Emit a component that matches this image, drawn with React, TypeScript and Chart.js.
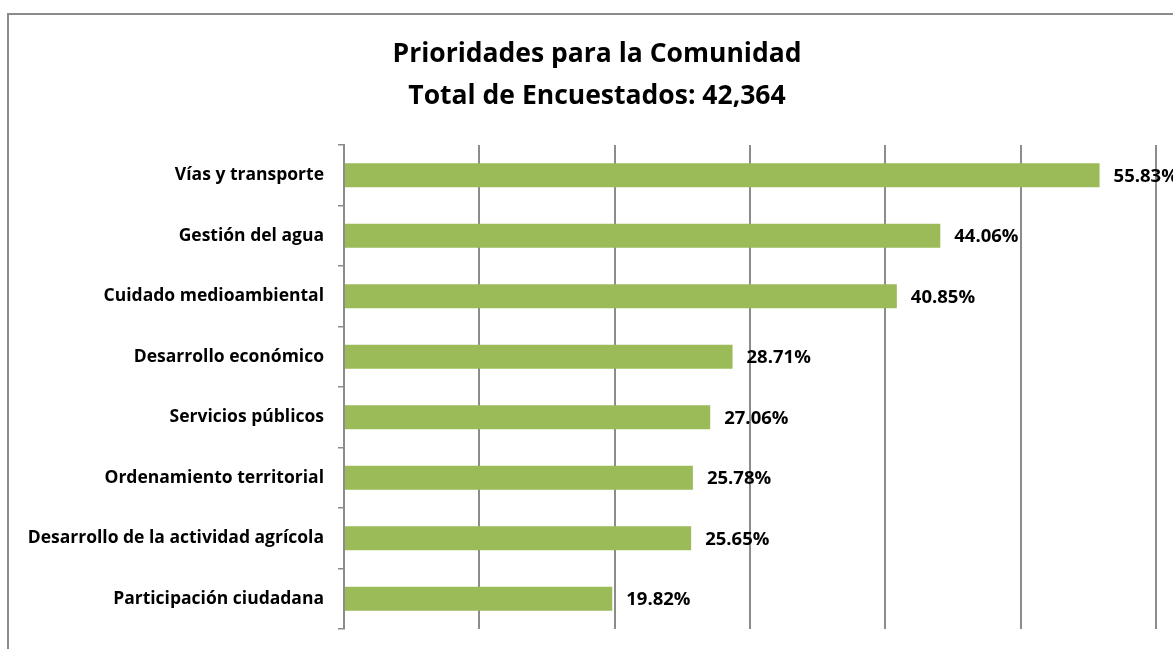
import React, { useEffect, useRef } from "react";
import { Chart, registerables } from "chart.js";

Chart.register(...registerables);

const categories = [
  "Vías y transporte",
  "Gestión del agua",
  "Cuidado medioambiental",
  "Desarrollo económico",
  "Servicios públicos",
  "Ordenamiento territorial",
  "Desarrollo de la actividad agrícola",
  "Participación ciudadana",
];
const values = [55.83, 44.06, 40.85, 28.71, 27.06, 25.78, 25.65, 19.82];
const titleLines = ["Prioridades para la Comunidad", "Total de Encuestados: 42,364"];

const FONT = "'Open Sans', Lato, sans-serif";

const labelPlugin = {
  id: "barLabels",
  afterDatasetsDraw(chart: any) {
    const ctx = chart.ctx;
    const meta = chart.getDatasetMeta(0);
    ctx.save();
    ctx.font = `bold 18.5px ${FONT}`;
    ctx.fillStyle = "#000";
    ctx.textBaseline = "middle";
    ctx.textAlign = "left";
    meta.data.forEach((el: any, i: number) => {
      ctx.fillText(values[i].toFixed(2) + "%", el.x + 14, el.y + 1);
    });
    ctx.restore();
  },
};

const titlePlugin = {
  id: "centeredTitle",
  afterDraw(chart: any) {
    const ctx = chart.ctx;
    ctx.save();
    ctx.font = `bold 26.5px ${FONT}`;
    ctx.fillStyle = "#000";
    ctx.textAlign = "center";
    ctx.textBaseline = "middle";
    titleLines.forEach((t, i) => {
      ctx.fillText(t, 588, 39 + i * 42);
    });
    ctx.restore();
  },
};

export default function App() {
  const ref = useRef<HTMLCanvasElement>(null);
  useEffect(() => {
    if (!ref.current) return;
    const chart = new Chart(ref.current, {
      type: "bar",
      data: {
        labels: categories,
        datasets: [
          {
            data: values,
            backgroundColor: "#9BBB59",
            borderWidth: 0,
            barPercentage: 0.8,
            categoryPercentage: 0.5,
          },
        ],
      },
      options: {
        indexAxis: "y",
        animation: false,
        responsive: false,
        layout: { padding: { top: 130, right: 31, bottom: 36, left: 0 } },
        plugins: {
          legend: { display: false },
          tooltip: { enabled: false },
          title: { display: false },
        },
        scales: {
          x: {
            min: 0,
            max: 60,
            ticks: { display: false, stepSize: 10 },
            grid: { color: "#8c8c8c", lineWidth: 2, drawTicks: false },
            border: { display: false },
          },
          y: {
            afterFit(scale: any) {
              scale.width = 335;
            },
            ticks: {
              color: "#000",
              font: { family: FONT, size: 17.5, weight: "bold" },
              padding: 14,
            },
            grid: {
              offset: true,
              drawOnChartArea: false,
              drawTicks: true,
              tickLength: 6,
              color: "#8c8c8c",
              lineWidth: 1.5,
            },
            border: { display: true, color: "#8c8c8c", width: 2 },
          },
        },
      },
      plugins: [labelPlugin, titlePlugin],
    });
    return () => chart.destroy();
  }, []);
  return (
    <div
      style={{
        position: "fixed",
        left: 0,
        top: 0,
        width: 1173,
        height: 649,
        overflow: "hidden",
        background: "#fff",
      }}
    >
      <div
        style={{
          position: "absolute",
          left: 7,
          top: 13,
          width: 1178,
          height: 650,
          border: "2px solid #8c8c8c",
          background: "#fff",
        }}
      >
        <canvas ref={ref} width={1178} height={650} style={{ display: "block" }} />
      </div>
    </div>
  );
}
